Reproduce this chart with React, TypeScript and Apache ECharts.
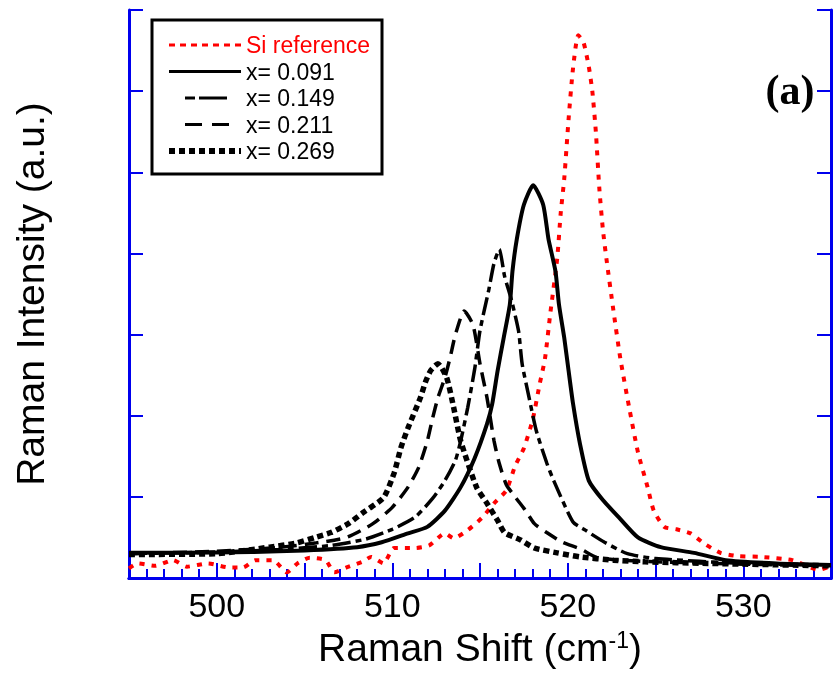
import React, { useEffect, useRef } from 'react';
import * as echarts from 'echarts';

// Si reference (red dotted)
const siX = [495, 495.5, 496.5, 497.5, 498.3, 499.5, 500.7, 501.5, 502.2, 503.2, 504, 504.6, 505.3, 506.2, 506.7, 507.4, 508.3, 508.8, 509.5, 510.1, 511.3, 512.1, 513, 513.5, 514.3, 515.1, 515.8, 516.5, 517, 517.5, 518, 518.4, 518.7, 519, 519.4, 519.6, 519.8, 520.06, 520.3, 520.6, 520.9, 521.2, 521.4, 521.6, 521.8, 522, 522.2, 522.6, 523, 523.5, 524, 524.55, 524.9, 525.5, 526.2, 527, 527.8, 528.7, 529.7, 531, 532.8, 534.3, 535];
const siY = [0.12, 0.18, 0.15, 0.22, 0.14, 0.18, 0.13, 0.13, 0.22, 0.22, 0.07, 0.18, 0.25, 0.22, 0.07, 0.13, 0.2, 0.26, 0.18, 0.37, 0.37, 0.4, 0.55, 0.49, 0.59, 0.74, 0.92, 1.08, 1.38, 1.6, 1.95, 2.39, 2.7, 3.25, 3.94, 4.5, 4.92, 5.69, 6.28, 6.69, 6.6, 6.3, 6.0, 5.5, 4.8, 4.3, 3.94, 3.3, 2.7, 2.1, 1.55, 1.12, 0.83, 0.63, 0.6, 0.55, 0.42, 0.31, 0.27, 0.26, 0.22, 0.1, 0.15];

// x = 0.091 (solid)
const x091X = [495, 498, 502, 505, 508, 509.4, 510.9, 512, 513, 513.9, 514.7, 515.4, 515.7, 516, 516.35, 516.7, 516.85, 517.1, 517.5, 518.03, 518.6, 518.9, 519.3, 519.5, 519.8, 520.05, 520.3, 520.7, 521.2, 522, 522.9, 524, 525.3, 527.2, 529, 531.9, 535];
const x091Y = [0.31, 0.31, 0.32, 0.34, 0.38, 0.44, 0.55, 0.63, 0.83, 1.12, 1.48, 1.9, 2.15, 2.55, 2.96, 3.37, 3.78, 4.18, 4.6, 4.84, 4.6, 4.18, 3.78, 3.37, 2.96, 2.55, 2.15, 1.65, 1.2, 0.96, 0.75, 0.5, 0.38, 0.31, 0.22, 0.18, 0.16];

// x = 0.149 (dash-dot)
const x149X = [495, 500, 503.5, 506.5, 508.5, 510, 511.3, 512.3, 513, 513.6, 513.9, 514.3, 514.7, 515, 515.5, 515.8, 516.1, 516.4, 516.8, 517.2, 517.4, 517.8, 518.2, 518.8, 519.2, 520.3, 521, 522.1, 523.4, 525, 530, 535];
const x149Y = [0.3, 0.32, 0.35, 0.4, 0.48, 0.6, 0.75, 0.98, 1.2, 1.45, 1.69, 2.1, 2.58, 3.05, 3.55, 3.88, 4.05, 3.72, 3.42, 3.04, 2.64, 2.22, 1.82, 1.42, 1.2, 0.69, 0.59, 0.44, 0.3, 0.24, 0.18, 0.16];

// x = 0.211 (dashed)
const x211X = [495, 500, 503.7, 505.6, 507.4, 508.9, 510, 510.9, 511.5, 512, 512.3, 512.6, 513, 513.3, 513.6, 514.1, 514.6, 515, 515.4, 515.8, 516.1, 516.5, 517, 517.6, 518.1, 518.8, 519.7, 520.7, 521.7, 523, 525, 530, 535];
const x211Y = [0.3, 0.33, 0.38, 0.43, 0.5, 0.67, 0.87, 1.12, 1.36, 1.69, 1.97, 2.22, 2.47, 2.72, 3.0, 3.29, 3.12, 2.64, 2.22, 1.69, 1.41, 1.15, 1.0, 0.83, 0.67, 0.56, 0.44, 0.36, 0.25, 0.22, 0.2, 0.17, 0.15];

// x = 0.269 (thick dotted)
const x269X = [495, 500, 503, 504.5, 505.6, 506.5, 507.5, 508.3, 509.5, 510.1, 510.5, 510.9, 511.6, 511.9, 512.2, 512.6, 513.1, 513.5, 513.9, 514.8, 515.4, 516, 516.4, 517.3, 518.1, 519.4, 520.7, 522.6, 524.4, 528, 535];
const x269Y = [0.29, 0.3, 0.38, 0.43, 0.5, 0.56, 0.67, 0.8, 0.99, 1.29, 1.61, 1.85, 2.22, 2.42, 2.56, 2.64, 2.47, 2.1, 1.69, 1.12, 0.92, 0.71, 0.56, 0.47, 0.37, 0.31, 0.26, 0.22, 0.2, 0.18, 0.15];

const seriesNames = ['Si reference', 'x= 0.091', 'x= 0.149', 'x= 0.211', 'x= 0.269'];
const xTickLabels = ['500', '510', '520', '530'];

export default function App() {
  const ref = useRef<HTMLDivElement>(null);

  useEffect(() => {
    if (!ref.current) return;
    const chart = echarts.init(ref.current, null, { renderer: 'svg' });
    const pairs = (xs: number[], ys: number[]) => xs.map((x, i) => [x, ys[i]]);
    const blue = '#0000ee';
    const font = "'Liberation Sans', Arial, sans-serif";
    const styles = [
      { color: '#ff0000', width: 4, type: [5, 7], lw: 3, ltype: [6, 5] },
      { color: '#000000', width: 4, type: 'solid', lw: 3, ltype: 'solid' },
      { color: '#000000', width: 3.5, type: [18, 5, 6, 5], lw: 3, ltype: [0, 16, 10, 4, 28, 0] },
      { color: '#000000', width: 3.5, type: [14, 8], lw: 3, ltype: [0, 16, 17, 10, 17, 0] },
      { color: '#000000', width: 5.5, type: [6, 4], lw: 6, ltype: [6, 4] },
    ];
    const datasets = [pairs(siX, siY), pairs(x091X, x091Y), pairs(x149X, x149Y), pairs(x211X, x211Y), pairs(x269X, x269Y)];

    chart.setOption({
      animation: false,
      grid: { left: 129, top: 10, right: -5, bottom: 101 },
      xAxis: [
        {
          type: 'value', min: 495, max: 535, interval: 5, position: 'bottom',
          axisLine: { lineStyle: { color: blue, width: 3 } },
          axisTick: { inside: true, length: 15, lineStyle: { color: blue, width: 2 } },
          minorTick: { show: true, splitNumber: 5, length: 9, lineStyle: { color: blue, width: 2 } },
          axisLabel: {
            formatter: (v: number) => (xTickLabels.includes(String(v)) ? String(v) : ''),
            fontSize: 34, color: '#000', margin: 10, fontFamily: font,
          },
          splitLine: { show: false },
          name: '{a|Raman Shift (cm}{b|-1}{a|)}',
          nameLocation: 'middle',
          nameGap: 50,
          nameTextStyle: {
            rich: {
              a: { fontSize: 39, fontFamily: font, color: '#000' },
              b: { fontSize: 23, fontFamily: font, color: '#000', verticalAlign: 'top' },
            },
          },
        },
        {
          type: 'value', min: 495, max: 535, position: 'top',
          axisLine: { lineStyle: { color: blue, width: 3 } },
          axisTick: { show: false }, axisLabel: { show: false }, splitLine: { show: false },
        },
      ],
      yAxis: [
        {
          type: 'value', min: 0, max: 7, interval: 1, position: 'left',
          axisLine: { show: true, lineStyle: { color: blue, width: 3 } },
          axisTick: { show: true, inside: true, length: 14, lineStyle: { color: blue, width: 2 } },
          axisLabel: { show: false }, splitLine: { show: false },
          name: 'Raman Intensity (a.u.)', nameLocation: 'middle', nameGap: 79, nameRotate: 90,
          nameTextStyle: { fontSize: 39, fontFamily: font, color: '#000' },
        },
        {
          type: 'value', min: 0, max: 7, interval: 1, position: 'right',
          axisLine: { show: true, lineStyle: { color: blue, width: 3 } },
          axisTick: { show: true, inside: true, length: 14, lineStyle: { color: blue, width: 2 } },
          axisLabel: { show: false }, splitLine: { show: false },
        },
      ],
      legend: {
        orient: 'vertical', left: 152, top: 20,
        padding: [13, 12, 11, 14],
        borderColor: '#000', borderWidth: 3, backgroundColor: '#fff',
        itemWidth: 72, itemHeight: 14, itemGap: 2.5,
        itemStyle: { opacity: 0 },
        textStyle: { fontSize: 23, fontFamily: font, color: '#000', lineHeight: 24 },
        data: seriesNames.map((n, i) => ({
          name: n,
          itemStyle: { opacity: 0, color: 'rgba(0,0,0,0)', borderWidth: 0 },
          textStyle: { color: i === 0 ? '#ff0000' : '#000' },
          lineStyle: { width: styles[i].lw, type: styles[i].ltype, color: styles[i].color },
        })),
      },
      graphic: [
        {
          type: 'text', x: 790, y: 90,
          style: {
            text: '(a)', fill: '#000', align: 'center', verticalAlign: 'middle',
            fontSize: 42, fontWeight: 'bold', fontFamily: "'Liberation Serif', 'Times New Roman', serif",
          },
        },
      ],
      series: seriesNames.map((n, i) => ({
        name: n, type: 'line', data: datasets[i], symbol: 'none', smooth: 0.2,
        xAxisIndex: 0, yAxisIndex: 0,
        lineStyle: { color: styles[i].color, width: styles[i].width, type: styles[i].type },
        itemStyle: { color: styles[i].color },
        z: 2 + i,
      })),
    });
    return () => chart.dispose();
  }, []);

  return <div ref={ref} style={{ position: 'fixed', left: 0, top: 0, width: 834, height: 679 }} />;
}
